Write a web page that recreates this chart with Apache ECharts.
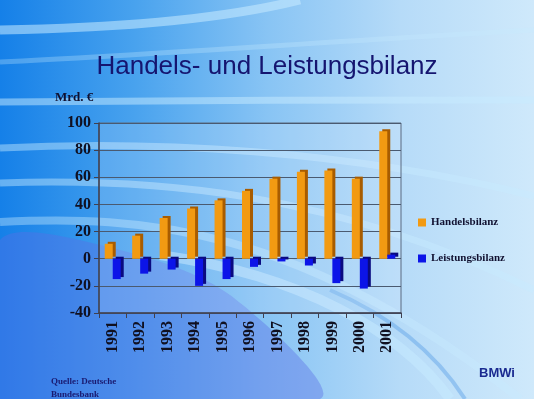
<!DOCTYPE html>
<html>
<head>
<meta charset="utf-8">
<script src="https://cdn.jsdelivr.net/npm/echarts@6/dist/echarts.min.js"></script>
<style>
  html, body { margin: 0; padding: 0; }
  #chart {
    width: 534px; height: 399px;
    background: linear-gradient(90deg, #1580e8 0%, #48a2ee 25%, #88c4f4 50%, #b6dbf8 75%, #cfe9fb 100%);
  }
</style>
</head>
<body>
<div id="chart"></div>
<script>
// Daten (Mrd. €)
const years = ['1991', '1992', '1993', '1994', '1995', '1996', '1997', '1998', '1999', '2000', '2001']
const handelsbilanz = [11, 17, 30, 37, 43, 50, 59, 64, 65, 59, 94]
const leistungsbilanz = [-15, -11, -8, -20, -15, -6, -2, -5, -18, -22, 3]
const yTicks = [-40, -20, 0, 20, 40, 60, 80, 100]

const chart = echarts.init(document.getElementById('chart'))

const serif = '"Liberation Serif", "DejaVu Serif", serif'
const sans = '"Liberation Sans", Arial, sans-serif'

// Hintergrund-Schwünge
const swoosh = (x1, y1, cx1, cy1, cx2, cy2, x2, y2, w, c) => ({
  type: 'bezierCurve',
  silent: true,
  z: -10,
  shape: { x1, y1, cpx1: cx1, cpy1: cy1, cpx2: cx2, cpy2: cy2, x2, y2 },
  style: { stroke: c, lineWidth: w, fill: null }
})

chart.setOption({
  graphic: [
    {
      type: 'polygon', silent: true, z: -11,
      shape: { points: [[0, 240], [120, 250], [230, 295], [320, 399], [0, 399]], smooth: 0.3 },
      style: { fill: 'rgba(90,110,230,0.4)' }
    },
    swoosh(0, 30, 120, 28, 220, 20, 300, 0, 9, 'rgba(200,235,255,0.55)'),
    swoosh(0, 62, 150, 55, 350, 40, 534, 30, 5, 'rgba(200,235,255,0.3)'),
    swoosh(0, 102, 150, 100, 380, 100, 534, 100, 7, 'rgba(200,235,255,0.5)'),
    swoosh(0, 148, 150, 140, 350, 150, 534, 196, 7, 'rgba(200,235,255,0.45)'),
    swoosh(0, 183, 150, 178, 330, 190, 534, 290, 7, 'rgba(200,235,255,0.45)'),
    swoosh(0, 222, 140, 215, 300, 225, 520, 399, 8, 'rgba(200,235,255,0.4)'),
    swoosh(160, 255, 300, 275, 400, 330, 450, 399, 10, 'rgba(200,235,255,0.5)'),
    swoosh(330, 290, 400, 320, 440, 360, 465, 399, 4, 'rgba(90,160,230,0.45)'),
    {
      type: 'text', left: 'center', top: 54,
      style: { text: 'Handels- und Leistungsbilanz', font: '26px ' + sans, fill: '#151570' }
    },
    {
      type: 'text', left: 55, top: 91,
      style: { text: 'Mrd. €', font: 'bold 13px ' + serif, fill: '#101030' }
    },
    {
      type: 'text', left: 51, top: 375,
      style: { text: 'Quelle: Deutsche\nBundesbank', font: 'bold 9px ' + serif, fill: '#1a1a70', lineHeight: 13 }
    },
    {
      type: 'text', left: 479, top: 367,
      style: { text: 'BMWi', font: 'bold 13px ' + sans, fill: '#1a2a90' }
    }
  ],
  grid: {
    left: 99, top: 123, width: 302, height: 190,
    show: true, backgroundColor: 'rgba(225,240,255,0.18)', borderColor: '#5a6a80', borderWidth: 1
  },
  legend: {
    orient: 'vertical', left: 413, top: 212, itemGap: 25,
    icon: 'rect', itemWidth: 8, itemHeight: 8,
    textStyle: { fontFamily: serif, fontWeight: 'bold', fontSize: 11, color: '#101030' },
    data: ['Handelsbilanz', 'Leistungsbilanz']
  },
  xAxis: {
    type: 'category', data: years,
    axisLine: { onZero: false, lineStyle: { color: '#404050', width: 1.5 } },
    axisTick: { show: true, length: 5, lineStyle: { color: '#404050' } },
    axisLabel: { rotate: 90, margin: 8, fontFamily: serif, fontWeight: 'bold', fontSize: 16, color: '#101020' }
  },
  yAxis: {
    type: 'value', min: yTicks[0], max: yTicks[yTicks.length - 1], interval: 20,
    axisLine: { show: true, lineStyle: { color: '#404050', width: 1.5 } },
    axisTick: { show: true, length: 5, lineStyle: { color: '#404050' } },
    axisLabel: { margin: 8, fontFamily: serif, fontWeight: 'bold', fontSize: 16, color: '#101020' },
    splitLine: { lineStyle: { color: '#4a5a70', width: 1 } }
  },
  series: [
    {
      name: 'Handelsbilanz', type: 'bar', data: handelsbilanz,
      barWidth: 8, barGap: '0%',
      itemStyle: { color: '#f29a12', shadowColor: '#a85c00', shadowOffsetX: 3, shadowOffsetY: -2 }
    },
    {
      name: 'Leistungsbilanz', type: 'bar', data: leistungsbilanz,
      barWidth: 8,
      itemStyle: { color: '#0c14e8', shadowColor: '#0a0a80', shadowOffsetX: 3, shadowOffsetY: -2 }
    }
  ]
})
</script>
</body>
</html>
